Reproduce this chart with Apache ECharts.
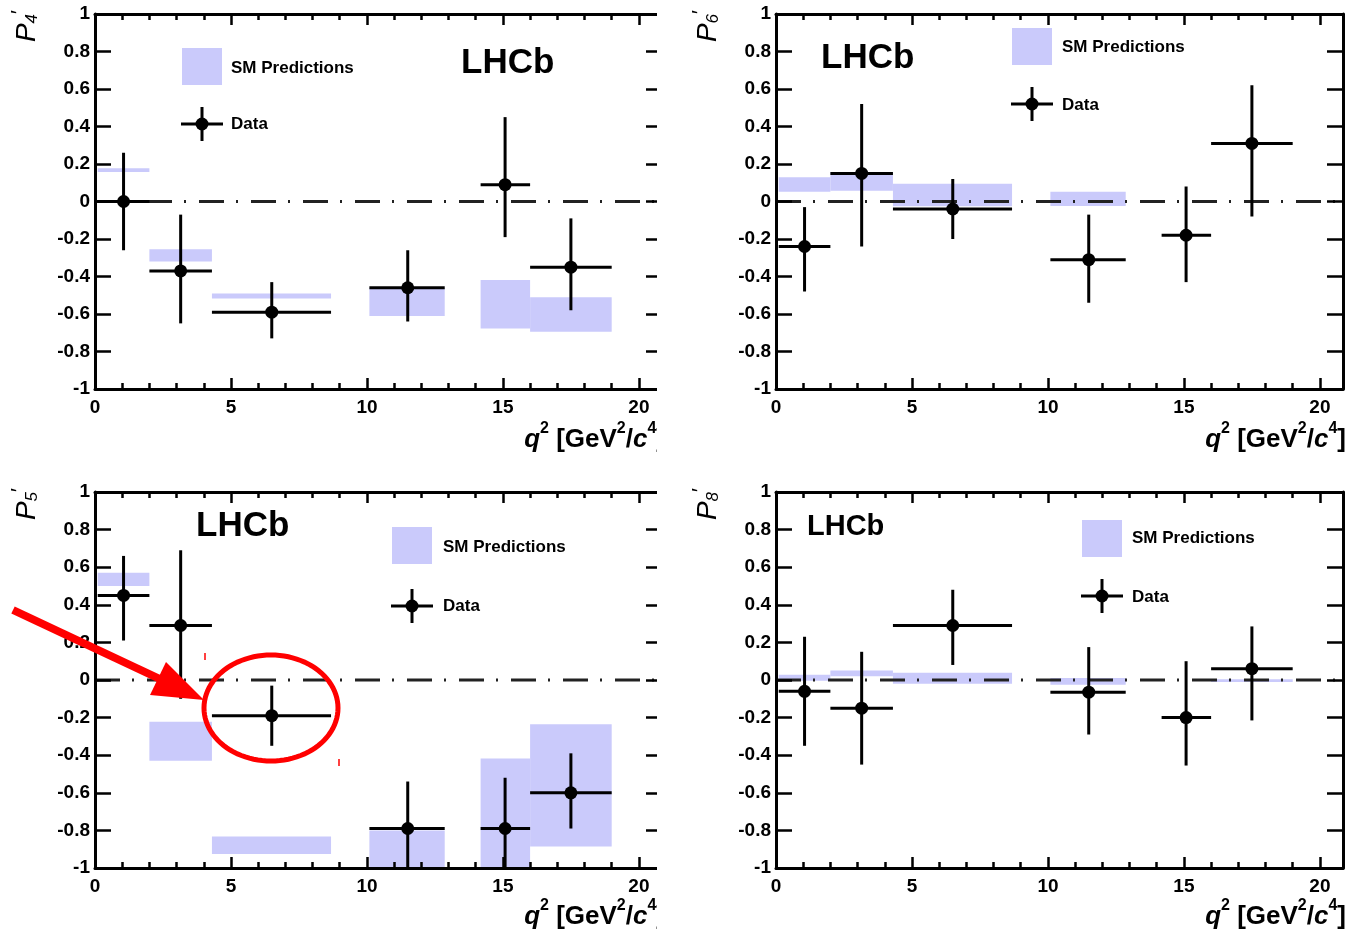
<!DOCTYPE html>
<html><head><meta charset="utf-8">
<script src="https://cdn.jsdelivr.net/npm/echarts@6/dist/echarts.min.js"></script>
<style>html,body{margin:0;padding:0;background:#fff}#c{width:1348px;height:931px}</style>
</head><body><div id="c"></div>
<script>
// ---------------- data ----------------
const binLo   = [0.1, 2.0, 4.3, 10.09, 14.18, 16.0];
const binHi   = [2.0, 4.3, 8.68, 12.86, 16.0, 19.0];
const binMean = [1.05, 3.15, 6.5, 11.5, 15.08, 17.5];
const xTicks  = [0, 5, 10, 15, 20];
const yTicks  = [-1, -0.8, -0.6, -0.4, -0.2, 0, 0.2, 0.4, 0.6, 0.8, 1];

// P4'
const p4Val  = [0.00, -0.37, -0.59, -0.46, 0.09, -0.35];
const p4Up   = [0.26, -0.07, -0.43, -0.26, 0.45, -0.09];
const p4Dn   = [-0.26, -0.65, -0.73, -0.64, -0.19, -0.58];
const p4SmLo = [0.157, -0.32, -0.517, -0.61, -0.677, -0.695];
const p4SmHi = [0.178, -0.255, -0.49, -0.46, -0.419, -0.511];
// P6'
const p6Val  = [-0.24, 0.15, -0.04, -0.31, -0.18, 0.31];
const p6Up   = [-0.03, 0.52, 0.12, -0.07, 0.08, 0.62];
const p6Dn   = [-0.48, -0.24, -0.20, -0.54, -0.43, -0.08];
const p6SmLo = [0.052, 0.057, -0.025, -0.024, null, null];
const p6SmHi = [0.129, 0.155, 0.095, 0.052, null, null];
// P5'
const p5Val  = [0.45, 0.29, -0.19, -0.79, -0.79, -0.60];
const p5Up   = [0.66, 0.69, -0.03, -0.54, -0.52, -0.39];
const p5Dn   = [0.21, -0.10, -0.35, -1.0, -1.0, -0.79];
const p5SmLo = [0.50, -0.43, -0.925, -1.0, -1.0, -0.886];
const p5SmHi = [0.571, -0.222, -0.833, -0.80, -0.418, -0.235];
// P8'
const p8Val  = [-0.06, -0.15, 0.29, -0.065, -0.20, 0.06];
const p8Up   = [0.23, 0.15, 0.48, 0.175, 0.10, 0.285];
const p8Dn   = [-0.35, -0.45, 0.08, -0.29, -0.455, -0.215];
const p8SmLo = [-0.004, 0.02, -0.02, -0.025, null, -0.01];
const p8SmHi = [0.028, 0.05, 0.039, 0.01, null, 0.004];

// ---------------- layout / style ----------------
const XMIN = 0, XMAX = 20.85, YMIN = -1, YMAX = 1;
const FONT = '"Liberation Sans", Arial, Helvetica, sans-serif';
const BAND = '#cacafb';

const panels = [
  {sub:'4', val:p4Val, up:p4Up, dn:p4Dn, lo:p4SmLo, hi:p4SmHi,
   grid:{left:95, top:14, width:567, height:375},
   lhcb:[461, 63, 35], rect:[182, 48], smText:[231, 68], cross:[202, 124], dataText:[231, 124],
   ytitle:[25, 10], xtitle:[665, 437]},
  {sub:'6', val:p6Val, up:p6Up, dn:p6Dn, lo:p6SmLo, hi:p6SmHi,
   grid:{left:776, top:14, width:567, height:375},
   lhcb:[821, 58, 35], rect:[1012, 28], smText:[1062, 47], cross:[1032, 104], dataText:[1062, 105],
   ytitle:[706, 10], xtitle:[1346, 437]},
  {sub:'5', val:p5Val, up:p5Up, dn:p5Dn, lo:p5SmLo, hi:p5SmHi,
   grid:{left:95, top:492, width:567, height:376},
   lhcb:[196, 526, 35], rect:[392, 527], smText:[443, 547], cross:[412, 606], dataText:[443, 606],
   ytitle:[25, 488], xtitle:[665, 914]},
  {sub:'8', val:p8Val, up:p8Up, dn:p8Dn, lo:p8SmLo, hi:p8SmHi,
   grid:{left:776, top:492, width:567, height:376},
   lhcb:[807, 527, 29], rect:[1082, 520], smText:[1132, 538], cross:[1102, 596], dataText:[1132, 597],
   ytitle:[706, 488], xtitle:[1346, 914]}
];

const grids = [], xAxes = [], yAxes = [], series = [], graphics = [];
const blk = '#000';

panels.forEach((P, i) => {
  grids.push(Object.assign({outerBoundsMode:'none', containLabel:false}, P.grid));
  const xBase = {gridIndex:i, type:'value', min:XMIN, max:XMAX, splitLine:{show:false}, z:5};
  const xi = xAxes.length;
  xAxes.push(Object.assign({}, xBase, {position:'bottom', interval:5,
    axisLine:{show:true, onZero:false, lineStyle:{color:blk, width:3}},
    axisTick:{show:true, inside:true, length:11, lineStyle:{color:blk, width:2.5}},
    axisLabel:{show:true, color:blk, fontSize:19, fontWeight:'bold', fontFamily:FONT, margin:9,
      showMaxLabel:false, formatter: v => (xTicks.indexOf(v) >= 0 ? String(v) : '')}}));
  xAxes.push(Object.assign({}, xBase, {position:'bottom', interval:1,
    axisLine:{show:false, onZero:false},
    axisTick:{show:true, inside:true, length:6, lineStyle:{color:blk, width:2.5}},
    axisLabel:{show:false}}));
  xAxes.push(Object.assign({}, xBase, {position:'top', interval:5,
    axisLine:{show:true, onZero:false, lineStyle:{color:blk, width:3}},
    axisTick:{show:true, inside:true, length:11, lineStyle:{color:blk, width:2.5}},
    axisLabel:{show:false}}));
  xAxes.push(Object.assign({}, xBase, {position:'top', interval:1,
    axisLine:{show:false, onZero:false},
    axisTick:{show:true, inside:true, length:6, lineStyle:{color:blk, width:2.5}},
    axisLabel:{show:false}}));
  const yi = yAxes.length;
  const yBase = {gridIndex:i, type:'value', min:YMIN, max:YMAX, interval:0.2, splitLine:{show:false}, z:5};
  yAxes.push(Object.assign({}, yBase, {position:'left',
    axisLine:{show:true, onZero:false, lineStyle:{color:blk, width:3}},
    axisTick:{show:true, inside:true, length:16, lineStyle:{color:blk, width:2.5}},
    axisLabel:{show:true, color:blk, fontSize:19, fontWeight:'bold', fontFamily:FONT, margin:5,
      formatter: v => { const r = Math.round(v*10)/10; return yTicks.indexOf(r) >= 0 ? String(r) : ''; }}}));
  yAxes.push(Object.assign({}, yBase, {position:'right',
    axisLine:{show:true, onZero:false, lineStyle:{color:blk, width:3}},
    axisTick:{show:true, inside:true, length:16, lineStyle:{color:blk, width:2.5}},
    axisLabel:{show:false}}));

  // SM bands
  const bandData = [];
  binLo.forEach((b, k) => { if (P.lo[k] !== null) bandData.push([binLo[k], binHi[k], P.lo[k], P.hi[k]]); });
  series.push({type:'custom', xAxisIndex:xi, yAxisIndex:yi, z:1, silent:true, clip:true,
    encode:{x:[0,1], y:[2,3]}, data:bandData,
    renderItem:(params, api) => {
      const a = api.coord([api.value(0), api.value(3)]);
      const b = api.coord([api.value(1), api.value(2)]);
      return {type:'rect', shape:{x:a[0], y:a[1], width:b[0]-a[0], height:b[1]-a[1]}, style:{fill:BAND}};
    }});
  // zero line
  series.push({type:'line', xAxisIndex:xi, yAxisIndex:yi, z:2, silent:true, symbol:'none',
    data:[[XMIN, 0], [XMAX, 0]],
    lineStyle:{color:'#222', width:3, type:[25, 12, 2, 13]}});
  // data points
  const pts = P.val.map((v, k) => [binMean[k], v, binLo[k], binHi[k], P.dn[k], P.up[k]]);
  series.push({type:'custom', xAxisIndex:xi, yAxisIndex:yi, z:3, silent:true, clip:true,
    encode:{x:[0,2,3], y:[1,4,5]}, data:pts,
    renderItem:(params, api) => {
      const x = api.value(0), y = api.value(1);
      const c = api.coord([x, y]);
      const l = api.coord([api.value(2), y]), r = api.coord([api.value(3), y]);
      const b = api.coord([x, api.value(4)]), t = api.coord([x, api.value(5)]);
      return {type:'group', children:[
        {type:'line', shape:{x1:l[0], y1:l[1], x2:r[0], y2:r[1]}, style:{stroke:blk, lineWidth:3}},
        {type:'line', shape:{x1:t[0], y1:t[1], x2:b[0], y2:b[1]}, style:{stroke:blk, lineWidth:3}},
        {type:'circle', shape:{cx:c[0], cy:c[1], r:6.5}, style:{fill:blk}}
      ]};
    }});

  // LHCb label
  graphics.push({type:'text', x:P.lhcb[0], y:P.lhcb[1], z:50,
    style:{text:'LHCb', fill:blk, fontSize:P.lhcb[2], fontWeight:'bold', fontFamily:FONT,
      align:'left', verticalAlign:'middle', textAlign:'left', textVerticalAlign:'middle'}});
  // legend
  graphics.push({type:'rect', z:50, shape:{x:P.rect[0], y:P.rect[1], width:40, height:37}, style:{fill:BAND}});
  graphics.push({type:'text', x:P.smText[0], y:P.smText[1], z:50,
    style:{text:'SM Predictions', fill:blk, fontSize:17, fontWeight:'bold', fontFamily:FONT,
      align:'left', verticalAlign:'middle', textAlign:'left', textVerticalAlign:'middle'}});
  graphics.push({type:'line', z:50, shape:{x1:P.cross[0]-21, y1:P.cross[1], x2:P.cross[0]+21, y2:P.cross[1]}, style:{stroke:blk, lineWidth:3}});
  graphics.push({type:'line', z:50, shape:{x1:P.cross[0], y1:P.cross[1]-17, x2:P.cross[0], y2:P.cross[1]+17}, style:{stroke:blk, lineWidth:3}});
  graphics.push({type:'circle', z:50, shape:{cx:P.cross[0], cy:P.cross[1], r:6.5}, style:{fill:blk}});
  graphics.push({type:'text', x:P.dataText[0], y:P.dataText[1], z:50,
    style:{text:'Data', fill:blk, fontSize:17, fontWeight:'bold', fontFamily:FONT,
      align:'left', verticalAlign:'middle', textAlign:'left', textVerticalAlign:'middle'}});
  // y title (rotated)
  graphics.push({type:'text', x:P.ytitle[0], y:P.ytitle[1], rotation:Math.PI/2, z:50,
    style:{text:'{p|P}{s|' + P.sub + '}{r|′}', fill:blk, align:'right', verticalAlign:'middle',
      textAlign:'right', textVerticalAlign:'middle',
      rich:{
        p:{fontSize:28, fontStyle:'italic', fontFamily:FONT, lineHeight:32, verticalAlign:'bottom', fill:blk},
        s:{fontSize:17, fontStyle:'italic', fontFamily:FONT, lineHeight:16, verticalAlign:'bottom', fill:blk},
        r:{fontSize:21, fontFamily:FONT, lineHeight:16, verticalAlign:'top', fill:blk}
      }}});
  // x title
  graphics.push({type:'text', x:P.xtitle[0], y:P.xtitle[1], z:50,
    style:{text:'{qi|q}{sp|2}{n| [GeV}{sp|2}{n|/}{ci|c}{sp|4}{n|]}', fill:blk, align:'right', verticalAlign:'middle',
      textAlign:'right', textVerticalAlign:'middle',
      rich:{
        n:{fontSize:26, fontWeight:'bold', fontFamily:FONT, lineHeight:32, verticalAlign:'bottom', fill:blk},
        qi:{fontSize:26, fontWeight:'bold', fontStyle:'italic', fontFamily:FONT, lineHeight:32, verticalAlign:'bottom', fill:blk},
        ci:{fontSize:26, fontWeight:'bold', fontStyle:'italic', fontFamily:FONT, lineHeight:32, verticalAlign:'bottom', fill:blk},
        sp:{fontSize:16, fontWeight:'bold', fontFamily:FONT, lineHeight:12, verticalAlign:'top', fill:blk}
      }}});
});

// image crop on the right of the left-hand panels
graphics.push({type:'rect', z:90, shape:{x:657, y:0, width:12, height:931}, style:{fill:'#fff'}});

// red annotation (arrow + ellipse) in the P5' panel
const RED = '#ff0000';
graphics.push({type:'line', z:100, shape:{x1:13, y1:610, x2:162, y2:680}, style:{stroke:RED, lineWidth:8}});
graphics.push({type:'polygon', z:100, shape:{points:[[204, 700], [166, 662], [150, 695]]}, style:{fill:RED}});
const ell = [];
for (let k = 0; k < 96; k++) { const a = k / 96 * Math.PI * 2; ell.push([271 + 67 * Math.cos(a), 708 + 53 * Math.sin(a)]); }
graphics.push({type:'polygon', z:100, shape:{points:ell}, style:{fill:'none', stroke:RED, lineWidth:5}});
graphics.push({type:'line', z:100, shape:{x1:205, y1:653, x2:205, y2:660}, style:{stroke:RED, lineWidth:1.5}});
graphics.push({type:'line', z:100, shape:{x1:339, y1:759, x2:339, y2:766}, style:{stroke:RED, lineWidth:1.5}});

const chart = echarts.init(document.getElementById('c'), null, {renderer:'canvas'});
chart.setOption({
  animation:false,
  backgroundColor:'#fff',
  grid:grids, xAxis:xAxes, yAxis:yAxes, series:series, graphic:graphics
});
</script></body></html>
